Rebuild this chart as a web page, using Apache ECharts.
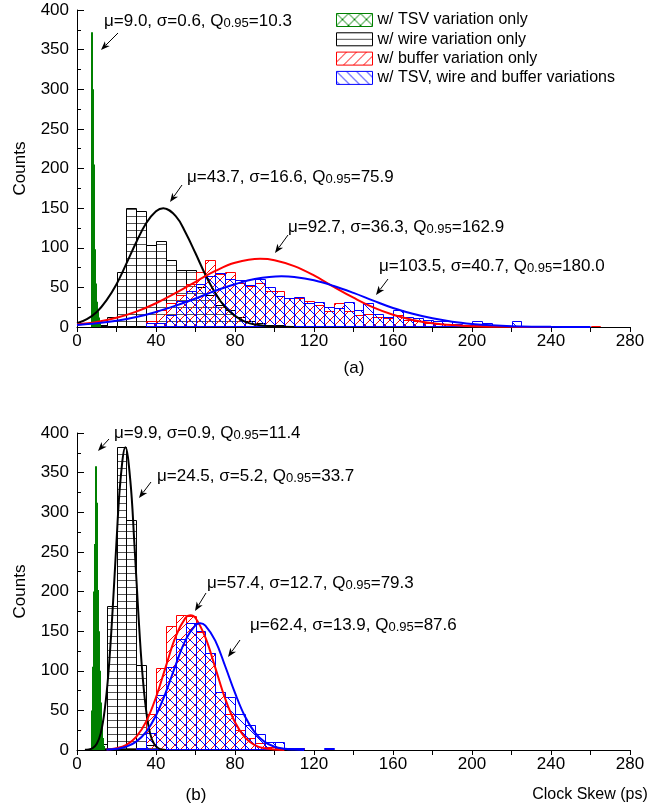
<!DOCTYPE html>
<html>
<head>
<meta charset="utf-8">
<script src="https://cdn.jsdelivr.net/npm/echarts@6/dist/echarts.min.js"></script>
<style>
  html, body { margin: 0; padding: 0; background: #fff; }
  #chart { width: 661px; height: 810px; }
</style>
</head>
<body>
<div id="chart"></div>
<script>
(function () {
  const FONT = 'Arial, "Liberation Sans", sans-serif';
  const binWidth = 5;
  const tsvBinWidth = 0.5;

  const seriesNames = [
    "w/ TSV variation only",
    "w/ wire variation only",
    "w/ buffer variation only",
    "w/ TSV, wire and buffer variations",
  ];

  // (a) bin starts, ps
  const topBins = [0, 5, 10, 15, 20, 25, 30, 35, 40, 45, 50, 55, 60, 65, 70, 75, 80, 85, 90, 95,
    100, 105, 110, 115, 120, 125, 130, 135, 140, 145, 150, 155, 160, 165, 170, 175, 180, 185, 190, 195,
    200, 205, 210, 215, 220, 225, 230, 235, 240, 245, 250, 255, 260, 265];
  const topWire = [0, 0, 2, 12, 70, 150, 147, 104, 108, 85, 72, 72, 50, 40, 28, 22, 12, 8, 5, 3,
    2, 0, 0, 0, 0, 0, 0, 0, 0, 0, 0, 0, 0, 0, 0, 0, 0, 0, 0, 0,
    0, 0, 0, 0, 0, 0, 0, 0, 0, 0, 0, 0, 0, 0];
  const topBuffer = [0, 0, 0, 0, 0, 0, 0, 8, 22, 30, 40, 54, 70, 85, 67, 70, 56, 52, 56, 46,
    45, 37, 36, 33, 28, 20, 30, 20, 15, 17, 13, 11, 15, 9, 7, 5, 4, 4, 3, 2,
    2, 2, 1, 0, 0, 0, 1, 0, 1, 0, 0, 0, 1, 0];
  const topAll = [0, 0, 0, 0, 0, 0, 0, 5, 5, 15, 33, 46, 54, 64, 68, 61, 59, 53, 60, 51,
    39, 37, 38, 30, 32, 25, 24, 31, 21, 30, 17, 13, 22, 13, 11, 9, 8, 7, 4, 3,
    8, 5, 1, 1, 8, 1, 1, 1, 1, 1, 1, 0, 0, 0];
  const topTsvBins = [7.5, 8, 8.5, 9, 9.5, 10, 10.5, 11, 11.5];
  const topTsv = [372, 300, 205, 98, 55, 32, 20, 12, 5];

  // (b) bin starts, ps
  const bottomBins = [0, 5, 10, 15, 20, 25, 30, 35, 40, 45, 50, 55, 60, 65, 70, 75, 80, 85, 90, 95,
    100, 105, 110, 115, 120, 125];
  const bottomWire = [0, 0, 8, 182, 382, 290, 107, 6, 1, 0, 0, 0, 0, 0, 0, 0, 0, 0, 0, 0,
    0, 0, 0, 0, 0, 0];
  const bottomBuffer = [0, 0, 0, 0, 0, 0, 3, 46, 103, 156, 170, 169, 149, 123, 73, 46, 25, 15, 9, 4,
    2, 1, 2, 0, 0, 0];
  const bottomAll = [0, 0, 0, 0, 0, 0, 3, 21, 70, 105, 140, 160, 150, 123, 73, 67, 46, 32, 20, 10,
    10, 3, 3, 0, 0, 2];
  const bottomTsvBins = [7.5, 8, 8.5, 9, 9.5, 10, 10.5, 11, 11.5, 12, 12.5, 13, 13.5];
  const bottomTsv = [50, 105, 200, 260, 358, 312, 202, 150, 100, 60, 30, 15, 5];

  // fitted curves [ps, counts]
  const topWireFit = [[0, 4.7], [5, 9.9], [10, 19], [15, 34], [20, 54], [25, 80], [30, 107], [35, 131],
    [40, 146], [43.7, 150], [50, 140], [55, 119], [60, 93], [65, 66], [70, 43], [75, 25], [80, 14],
    [85, 6.8], [90, 3.1], [100, 0.5], [110, 0]];
  const topBufferFit = [[0, 3.3], [10, 6.4], [20, 11.6], [30, 19.4], [40, 30], [50, 43], [60, 57],
    [70, 70.7], [80, 81], [92.7, 86], [100, 84.3], [110, 76.8], [120, 65], [130, 50.7], [140, 37],
    [150, 24.7], [160, 15.4], [170, 8.9], [180, 4.8], [190, 2.4], [200, 1.1], [220, 0.2], [240, 0]];
  const topAllFit = [[0, 2.5], [10, 4.6], [20, 7.8], [30, 12.5], [40, 19], [50, 27], [60, 36],
    [70, 45.6], [80, 54], [90, 60.6], [103.5, 64], [110, 63.2], [120, 59], [130, 51.8], [140, 43],
    [150, 33.3], [160, 24], [170, 16.8], [180, 11], [190, 6.7], [200, 3.9], [210, 2.1], [220, 1.1],
    [240, 0.2], [260, 0]];
  const bottomWireFit = [[4, 0.2], [6, 0.6], [8, 2.5], [10, 7.8], [12, 21], [14, 50], [16, 100],
    [18, 175], [20, 263], [22, 340], [24.5, 382], [27, 340], [29, 263], [31, 175], [33, 100],
    [35, 50], [37, 21], [39, 7.8], [41, 2.5], [43, 0.6], [45, 0]];
  const bottomBufferFit = [[15, 0.6], [20, 2.2], [25, 6.6], [30, 16.6], [35, 35.8], [40, 66.5],
    [45, 105.5], [50, 143.5], [55, 167], [57.4, 170], [60, 166.5], [65, 142], [70, 104], [75, 65],
    [80, 35], [85, 16], [90, 6.3], [95, 2.1], [100, 0.6], [105, 0]];
  const bottomAllFit = [[15, 0.5], [20, 1.5], [25, 4.3], [30, 10.6], [35, 22.9], [40, 43.6],
    [45, 73], [50, 107.5], [55, 139], [60, 157.6], [62.4, 160], [65, 157], [70, 138], [75, 106],
    [80, 72], [85, 42.6], [90, 22.3], [95, 10.2], [100, 4.1], [105, 1.5], [110, 0.5], [115, 0]];

  const annotations = [
    { text: ["μ=9.0, σ=0.6, Q", "0.95", "=10.3"], x: 104, y: 20, from: [118, 33], to: [101, 50] },
    { text: ["μ=43.7, σ=16.6, Q", "0.95", "=75.9"], x: 187, y: 176, from: [182, 185], to: [170, 202] },
    { text: ["μ=92.7, σ=36.3, Q", "0.95", "=162.9"], x: 288, y: 226, from: [288, 235], to: [275, 253] },
    { text: ["μ=103.5, σ=40.7, Q", "0.95", "=180.0"], x: 379, y: 265, from: [388, 279], to: [376, 295] },
    { text: ["μ=9.9, σ=0.9, Q", "0.95", "=11.4"], x: 114, y: 432, from: [109, 439], to: [98, 451] },
    { text: ["μ=24.5, σ=5.2, Q", "0.95", "=33.7"], x: 157, y: 475, from: [151, 482], to: [139, 498] },
    { text: ["μ=57.4, σ=12.7, Q", "0.95", "=79.3"], x: 207, y: 582, from: [206, 593], to: [195, 611] },
    { text: ["μ=62.4, σ=13.9, Q", "0.95", "=87.6"], x: 250, y: 624, from: [240, 640], to: [228, 657] },
  ];

  const GREEN = "#008000";
  const RED = "#ff0000";
  const BLUE = "#0000ff";

  function hatch(color, kind, size) {
    const c = document.createElement("canvas");
    c.width = size;
    c.height = size;
    const ctx = c.getContext("2d");
    ctx.strokeStyle = color;
    ctx.lineWidth = 1;
    ctx.beginPath();
    if (kind === "h") {
      ctx.moveTo(0, size - 0.5);
      ctx.lineTo(size, size - 0.5);
    }
    if (kind === "f" || kind === "x") {
      ctx.moveTo(-1, size + 1);
      ctx.lineTo(size + 1, -1);
    }
    if (kind === "b" || kind === "x") {
      ctx.moveTo(-1, -1);
      ctx.lineTo(size + 1, size + 1);
    }
    ctx.stroke();
    return { image: c, repeat: "repeat" };
  }

  const fills = {
    tsv: hatch(GREEN, "x", 12),
    wire: hatch("#555", "h", 7),
    buffer: hatch(RED, "f", 10),
    all: hatch(BLUE, "b", 10),
  };

  function histSeries(name, bins, counts, width, fill, stroke, idx) {
    const data = [];
    bins.forEach((b, i) => {
      if (counts[i] > 0) data.push([b, b + width, counts[i]]);
    });
    return {
      name,
      type: "custom",
      xAxisIndex: idx,
      yAxisIndex: idx,
      silent: true,
      data,
      encode: { x: [0, 1], y: 2 },
      renderItem(params, api) {
        const p0 = api.coord([api.value(0), api.value(2)]);
        const p1 = api.coord([api.value(1), 0]);
        let x0 = p0[0], x1 = p1[0], y0 = p0[1], y1 = p1[1];
        if (stroke) {
          x0 = Math.round(x0) + 0.5;
          x1 = Math.round(x1) + 0.5;
          y0 = Math.round(y0) + 0.5;
          y1 = Math.round(y1) - 0.5;
        } else {
          x0 = Math.floor(x0);
          x1 = Math.max(Math.ceil(x1), x0 + 1);
        }
        return {
          type: "rect",
          shape: { x: x0, y: y0, width: x1 - x0, height: y1 - y0 },
          style: { fill, stroke: stroke || null, lineWidth: stroke ? 1 : 0 },
        };
      },
    };
  }

  function fitSeries(points, color, idx) {
    return {
      type: "line",
      xAxisIndex: idx,
      yAxisIndex: idx,
      data: points,
      smooth: 0.4,
      symbol: "none",
      silent: true,
      lineStyle: { color, width: 2 },
      z: 3,
    };
  }

  function arrow(from, to) {
    const dx = to[0] - from[0];
    const dy = to[1] - from[1];
    const len = Math.hypot(dx, dy);
    const ux = dx / len, uy = dy / len;
    const hl = 9, hw = 3.5;
    const bx = to[0] - ux * hl, by = to[1] - uy * hl;
    return [
      { type: "line", shape: { x1: from[0], y1: from[1], x2: bx + ux * 2, y2: by + uy * 2 }, style: { stroke: "#000", lineWidth: 1 } },
      { type: "polygon", shape: { points: [to, [bx - uy * hw, by + ux * hw], [bx + ux * 2.5, by + uy * 2.5], [bx + uy * hw, by - ux * hw]] }, style: { fill: "#000" } },
    ];
  }

  const graphics = [];
  annotations.forEach((a) => {
    graphics.push({
      type: "text",
      x: a.x,
      y: a.y,
      silent: true,
      style: {
        text: `{m|${a.text[0]}}{s|${a.text[1]}}{m|${a.text[2]}}`,
        verticalAlign: "middle",
        fill: "#000",
        rich: {
          m: { fontSize: 17, fontFamily: FONT, verticalAlign: "bottom", lineHeight: 20 },
          s: { fontSize: 13, fontFamily: FONT, verticalAlign: "bottom", lineHeight: 20 },
        },
      },
    });
    graphics.push(...arrow(a.from, a.to));
  });
  [["(a)", 354, 368], ["(b)", 196, 795], ["Clock Skew (ps)", 590, 795]].forEach(([t, x, y]) => {
    graphics.push({
      type: "text", x, y, silent: true,
      style: { text: t, fontSize: t.length > 3 ? 16 : 17, fontFamily: FONT, fill: "#000", align: "center", verticalAlign: "middle" },
    });
  });

  function xAxis(idx) {
    return {
      gridIndex: idx,
      type: "value",
      min: 0,
      max: 280,
      interval: 20,
      axisLine: { show: true, onZero: false, lineStyle: { color: "#000", width: 1 } },
      axisTick: { show: true, length: 5, lineStyle: { color: "#000" } },
      axisLabel: {
        color: "#000", fontSize: 17, fontFamily: FONT, margin: 6,
        formatter: (v) => (v % 40 === 0 ? String(v) : ""),
      },
      splitLine: { show: false },
    };
  }

  function yAxis(idx) {
    return {
      gridIndex: idx,
      type: "value",
      min: 0,
      max: 400,
      interval: 50,
      name: "Counts",
      nameLocation: "middle",
      nameGap: 48,
      nameTextStyle: { color: "#000", fontSize: 17, fontFamily: FONT },
      axisLine: { show: true, onZero: false, lineStyle: { color: "#000", width: 1 } },
      axisTick: { show: true, inside: true, length: 7, lineStyle: { color: "#000" } },
      minorTick: { show: true, splitNumber: 2, length: 4, lineStyle: { color: "#000" } },
      axisLabel: { color: "#000", fontSize: 17, fontFamily: FONT, margin: 8 },
      splitLine: { show: false },
    };
  }

  const legendFills = [fills.tsv, fills.wire, fills.buffer, fills.all];
  const legendStrokes = [GREEN, "#000", RED, BLUE];

  const option = {
    animation: false,
    backgroundColor: "#fff",
    grid: [
      { left: 77, top: 10, width: 553, height: 317, outerBoundsMode: "none" },
      { left: 77, top: 433, width: 553, height: 317, outerBoundsMode: "none" },
    ],
    legend: {
      orient: "vertical",
      left: 336,
      top: 12,
      padding: 0,
      itemWidth: 36,
      itemHeight: 13,
      itemGap: 3.3,
      icon: "rect",
      selectedMode: false,
      textStyle: { color: "#000", fontSize: 16, fontFamily: FONT, lineHeight: 14 },
      data: seriesNames.map((n, i) => ({
        name: n,
        itemStyle: { color: legendFills[i], borderColor: legendStrokes[i], borderWidth: 1 },
      })),
    },
    xAxis: [xAxis(0), xAxis(1)],
    yAxis: [yAxis(0), yAxis(1)],
    series: [
      histSeries(seriesNames[1], topBins, topWire, binWidth, fills.wire, "#000", 0),
      histSeries(seriesNames[2], topBins, topBuffer, binWidth, fills.buffer, RED, 0),
      histSeries(seriesNames[3], topBins, topAll, binWidth, fills.all, BLUE, 0),
      histSeries(seriesNames[0], topTsvBins, topTsv, tsvBinWidth, GREEN, null, 0),
      fitSeries(topWireFit, "#000", 0),
      fitSeries(topBufferFit, RED, 0),
      fitSeries(topAllFit, BLUE, 0),
      histSeries(seriesNames[1], bottomBins, bottomWire, binWidth, fills.wire, "#000", 1),
      histSeries(seriesNames[2], bottomBins, bottomBuffer, binWidth, fills.buffer, RED, 1),
      histSeries(seriesNames[3], bottomBins, bottomAll, binWidth, fills.all, BLUE, 1),
      histSeries(seriesNames[0], bottomTsvBins, bottomTsv, tsvBinWidth, GREEN, null, 1),
      fitSeries(bottomWireFit, "#000", 1),
      fitSeries(bottomBufferFit, RED, 1),
      fitSeries(bottomAllFit, BLUE, 1),
    ],
    graphic: graphics,
  };

  const chart = echarts.init(document.getElementById("chart"), null, { renderer: "canvas" });
  chart.setOption(option);
})();
</script>
</body>
</html>
